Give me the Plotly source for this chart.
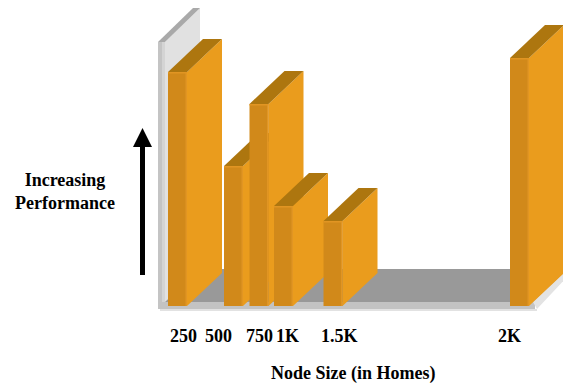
import plotly.graph_objects as go

# Node sizes and relative performance of each configuration
node_labels = ["250", "500", "750", "1K", "1.5K", "2K"]
node_pos = [177.5, 233.5, 259.0, 283.5, 333.0, 519.5]      # bar centres on the x axis
label_pos = [183.0, 218.5, 259.0, 287.0, 339.0, 509.0]     # tick label centres
performance = [9.36, 5.6, 8.08, 4.0, 3.4, 9.92]

# 3-D look: pixel scale and depth offsets
PX = 25.0                 # pixels per performance unit
BAR_W = 19.0
DEPTH_X = 35.0
DEPTH_Y = 33.0 / PX

FRONT = "#d1891a"
SIDE = "#ea9c1d"
TOP = "#ad760f"
EDGE = "#e19523"

fig = go.Figure()


def poly(xs, ys, color):
    fig.add_trace(go.Scatter(
        x=list(xs) + [xs[0]], y=list(ys) + [ys[0]], mode="lines",
        fill="toself", fillcolor=color, line=dict(width=0, color=color),
        hoverinfo="skip", showlegend=False))


def py(p):
    # pixel row -> performance units
    return (306.0 - p) / PX


# left wall: inner face, top edge and front edge
poly([165, 200, 200, 165], [py(42), py(8), py(272), py(306)], "#e1e1e1")
poly([158, 165, 200, 193], [py(42), py(42), py(8), py(8)], "#a9a9a9")
poly([158, 162, 162, 158], [py(42), py(42), py(309), py(309)], "#c4c4c4")
poly([162, 165, 165, 162], [py(42), py(42), py(309), py(309)], "#d4d4d4")

# floor: top, front edge and right edge
poly([165, 533, 568, 200], [py(302), py(302), py(269), py(269)], "#999999")
poly([160, 535, 535, 160], [py(302), py(302), py(309), py(309)], "#c3c3c3")
poly([160, 537, 537, 160], [py(309), py(309), py(311), py(311)], "#e2e2e2")
poly([533, 568, 568, 537], [py(302), py(269), py(276), py(309)], "#e3e3e3")

# bars, drawn left to right so each one sits in front of the previous
for xc, h in zip(node_pos, performance):
    xl, xr = xc - BAR_W / 2, xc + BAR_W / 2
    poly([xr, xr + DEPTH_X, xr + DEPTH_X, xr], [0, DEPTH_Y, h + DEPTH_Y, h], SIDE)
    poly([xl, xr, xr + DEPTH_X, xl + DEPTH_X], [h, h, h + DEPTH_Y, h + DEPTH_Y], TOP)
    poly([xl, xr, xr, xl], [0, 0, h, h], FRONT)
    poly([xl, xr, xr, xl], [h - 1.5 / PX, h - 1.5 / PX, h, h], EDGE)
    poly([xr - 1.5, xr, xr, xr - 1.5], [0, 0, h, h], EDGE)

font = dict(family="serif", size=18, color="black")

annotations = []
for lx, lab in zip(label_pos, node_labels):
    annotations.append(dict(x=lx, y=py(336), text="<b>%s</b>" % lab, showarrow=False,
                            xanchor="center", yanchor="middle", font=font))
annotations.append(dict(x=353, y=py(373), text="<b>Node Size (in Homes)</b>",
                        showarrow=False, xanchor="center", yanchor="middle", font=font))
annotations.append(dict(x=65, y=py(191), text="<b>Increasing<br>Performance</b>",
                        showarrow=False, xanchor="center", yanchor="middle", font=font))

shapes = [
    dict(type="rect", xref="x", yref="y", x0=140, x1=145, y0=py(275), y1=py(146),
         fillcolor="black", line=dict(width=0)),
    dict(type="path", xref="x", yref="y",
         path="M 133 %f L 152 %f L 142.5 %f Z" % (py(147), py(147), py(128)),
         fillcolor="black", line=dict(width=0)),
]

fig.update_layout(
    width=563, height=386,
    margin=dict(l=0, r=0, t=0, b=0),
    paper_bgcolor="white", plot_bgcolor="white",
    xaxis=dict(range=[0, 563], visible=False, fixedrange=True),
    yaxis=dict(range=[py(386), py(0)], visible=False, fixedrange=True),
    annotations=annotations, shapes=shapes,
    showlegend=False,
)

fig.write_html("out.html")
